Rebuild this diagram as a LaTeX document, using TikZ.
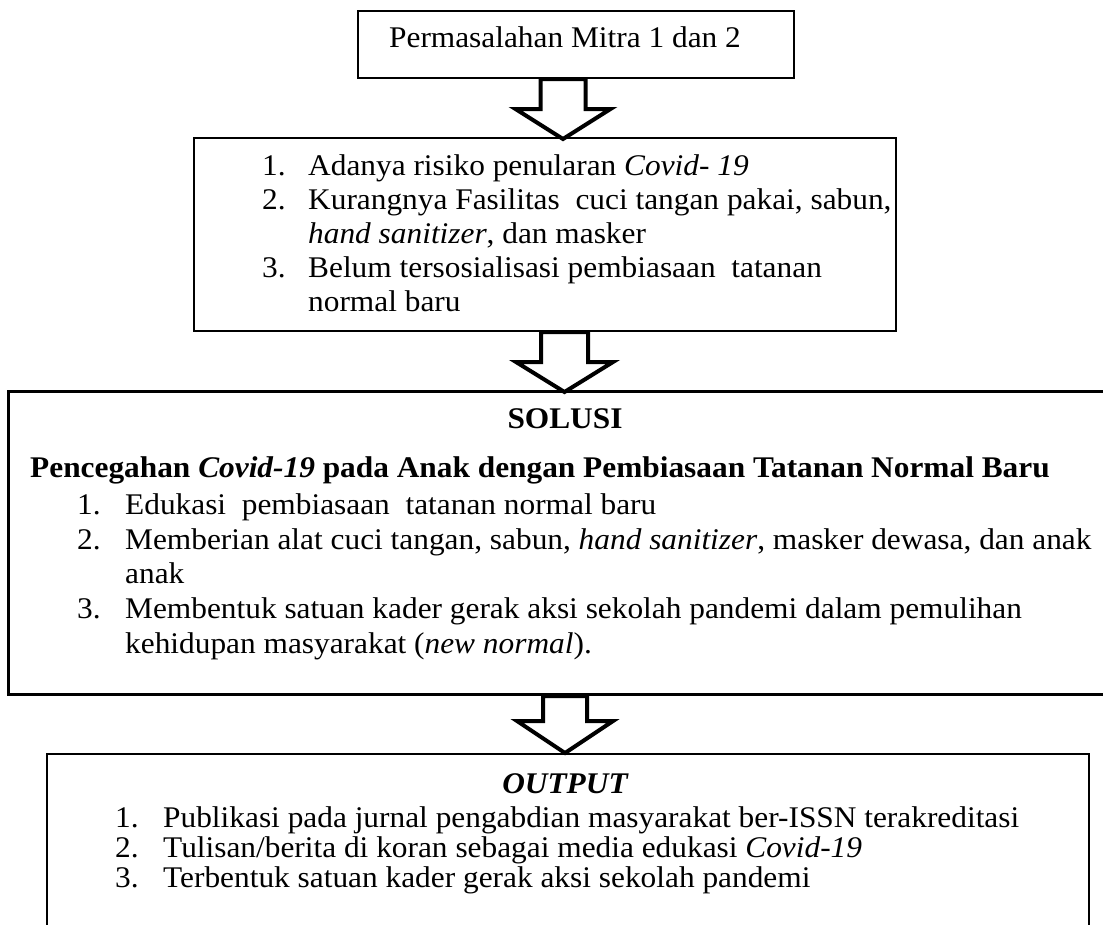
\documentclass[tikz,border=0pt]{standalone}
\usepackage{fontspec}
\setmainfont[FakeStretch=1.045]{Liberation Serif}

\tikzset{
  kotak/.style={draw, line width=2pt, inner sep=0pt, anchor=north west},
  baris/.style={anchor=base west, inner sep=0pt},
  judul/.style={anchor=base, inner sep=0pt},
  panah/.style={draw, fill=white, line width=4pt}
}

\begin{document}
\begin{tikzpicture}[x=1pt,y=-1pt,font=\fontsize{30}{36}\selectfont]
        \useasboundingbox (0,0) rectangle (1103,924);
        % kotak
        \node[kotak, minimum width=436pt, minimum height=67pt] (masalah) at (357,10) {};
        \node[kotak, minimum width=702pt, minimum height=193pt] (kendala) at (193,137) {};
        \node[kotak, line width=3pt, minimum width=1110pt, minimum height=303pt] (solusi) at (7,390) {};
        \node[kotak, minimum width=1042pt, minimum height=190pt] (output) at (46,753) {};
        % panah
        \draw[panah] (540.5,0 |- masalah.south) -- ++(0,30) -- ++(-25,0) -- ++(47.5,30)
            -- ++(47.5,-30) -- ++(-25,0) -- ++(0,-30) -- cycle;
        \draw[panah] (541,0 |- kendala.south) -- ++(0,30) -- ++(-25,0) -- ++(48.5,30)
            -- ++(48.5,-30) -- ++(-25,0) -- ++(0,-30) -- cycle;
        \draw[panah] (543,0 |- solusi.south) -- ++(0,25) -- ++(-26,0) -- ++(48,32)
            -- ++(48,-32) -- ++(-26,0) -- ++(0,-25) -- cycle;
        % teks
        \node[judul] (t0) at (565,47) {Permasalahan Mitra 1 dan 2};
        \node[baris] (k1) at (262,175) {1.};
        \node[baris] (k1a) at (308,175) {Adanya risiko penularan \textit{Covid- 19}};
        \node[baris] (k2) at (262,209) {2.};
        \node[baris] (k2a) at (308,209) {Kurangnya Fasilitas\ \ cuci tangan pakai, sabun,};
        \node[baris] (k2b) at (308,243) {\textit{hand sanitizer}, dan masker};
        \node[baris] (k3) at (262,277) {3.};
        \node[baris] (k3a) at (308,277) {Belum tersosialisasi pembiasaan\ \ tatanan};
        \node[baris] (k3b) at (308,311) {normal baru};
        \node[judul] (s0) at (565,428) {\bfseries SOLUSI};
        \node[baris] (s00) at (30,477) {\bfseries Pencegahan \textit{Covid-19} pada Anak dengan Pembiasaan Tatanan Normal Baru};
        \node[baris] (s1) at (77,514) {1.};
        \node[baris] (s1a) at (125,514) {Edukasi\ \ pembiasaan\ \ tatanan normal baru};
        \node[baris] (s2) at (77,549) {2.};
        \node[baris] (s2a) at (125,549) {Memberian alat cuci tangan, sabun, \textit{hand sanitizer}, masker dewasa, dan anak};
        \node[baris] (s2b) at (125,583) {anak};
        \node[baris] (s3) at (77,618) {3.};
        \node[baris] (s3a) at (125,618) {Membentuk satuan kader gerak aksi sekolah pandemi dalam pemulihan};
        \node[baris] (s3b) at (125,653) {kehidupan masyarakat (\textit{new normal}).};
        \node[judul] (o0) at (565,793) {\bfseries\itshape OUTPUT};
        \node[baris] (o1) at (115,827) {1.};
        \node[baris] (o1a) at (163,827) {Publikasi pada jurnal pengabdian masyarakat ber-ISSN terakreditasi};
        \node[baris] (o2) at (115,857) {2.};
        \node[baris] (o2a) at (163,857) {Tulisan/berita di koran sebagai media edukasi \textit{Covid-19}};
        \node[baris] (o3) at (115,887) {3.};
        \node[baris] (o3a) at (163,887) {Terbentuk satuan kader gerak aksi sekolah pandemi};
\end{tikzpicture}
\end{document}
